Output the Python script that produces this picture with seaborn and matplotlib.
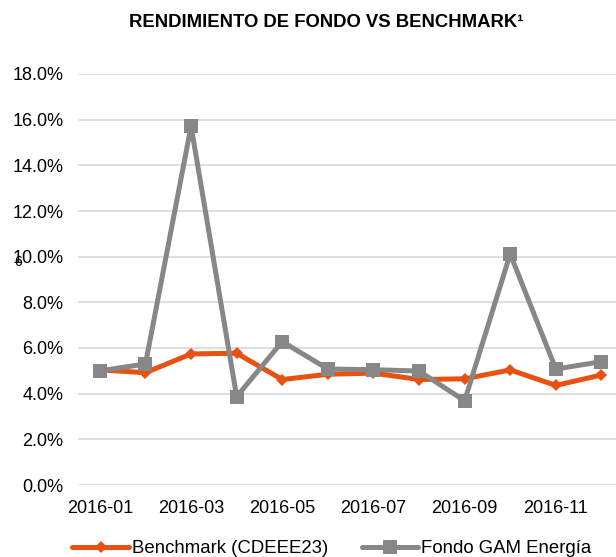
import pandas as pd
import matplotlib.pyplot as plt
import seaborn as sns

# datos mensuales 2016 (rendimiento %)
meses = ['2016-01', '2016-02', '2016-03', '2016-04', '2016-05', '2016-06',
         '2016-07', '2016-08', '2016-09', '2016-10', '2016-11', '2016-12']
benchmark = [5.04, 4.92, 5.74, 5.77, 4.62, 4.85, 4.90, 4.62, 4.65, 5.04, 4.36, 4.82]
fondo = [5.00, 5.30, 15.72, 3.87, 6.28, 5.08, 5.05, 4.99, 3.69, 10.12, 5.08, 5.40]

sns.set_theme(style='white')
plt.rcParams['font.family'] = ['Liberation Sans', 'DejaVu Sans']
plt.rcParams['text.color'] = 'black'

df = pd.DataFrame({'Mes': meses, 'Benchmark': benchmark, 'Fondo': fondo})

fig = plt.figure(figsize=(6.16, 5.57), dpi=100)
ax = fig.add_axes([78 / 616, 72 / 557, 538 / 616, 411 / 557])

sns.lineplot(data=df, x='Mes', y='Benchmark', ax=ax, color='#E8510F', linewidth=3.6,
             marker='D', markersize=6.5, markeredgewidth=0, label='Benchmark (CDEEE23)', sort=False)
sns.lineplot(data=df, x='Mes', y='Fondo', ax=ax, color='#878787', linewidth=3.6,
             marker='s', markersize=9.5, markeredgewidth=0, label='Fondo GAM Energía', sort=False)

ax.set_xlim(-0.48, 11.32)
ax.set_ylim(0, 18)
ax.set_yticks(range(0, 19, 2))
ax.set_yticklabels([f'{v:.1f}%' for v in range(0, 19, 2)], fontsize=13, color='black')
ax.set_xticks(range(0, 12, 2))
ax.set_xticklabels(meses[::2], fontsize=13, color='black')
ax.tick_params(axis='y', length=0, pad=10.5)
ax.tick_params(axis='x', length=0, pad=10.5)
ax.yaxis.grid(True, color='#D9D9D9', linewidth=1.2)
ax.xaxis.grid(False)
for s in ax.spines.values():
    s.set_visible(False)
ax.set_xlabel('')
ax.set_ylabel('')

fig.text(0.529, 1 - 22.5 / 557, 'RENDIMIENTO DE FONDO VS BENCHMARK\u00b9', ha='center', va='center',
         fontsize=13.3, fontweight='bold', color='black')
# marca suelta sobre la etiqueta del 10%
fig.text(18 / 616, 1 - 262 / 557, '6', ha='center', va='center', fontsize=10, color='black')

ax.legend(loc='center', bbox_to_anchor=(0.472, -0.155), ncol=2, frameon=False,
          fontsize=13.4, handlelength=3.05, columnspacing=1.8, handletextpad=0.15)

fig.savefig('out.png', dpi=100)
